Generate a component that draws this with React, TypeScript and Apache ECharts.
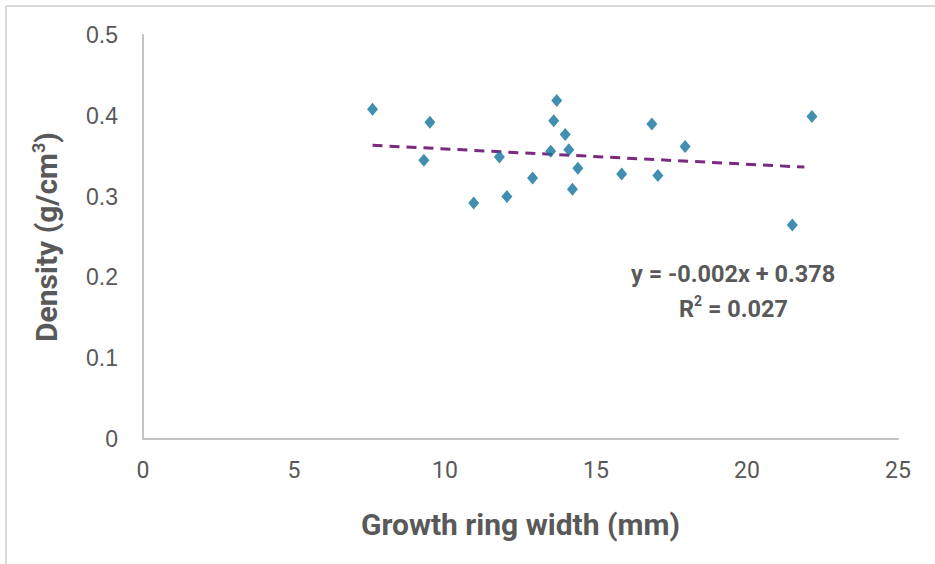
import React, { useEffect, useRef } from "react";
import * as echarts from "echarts";

const ringWidth = [7.6, 9.5, 9.3, 10.95, 11.8, 12.05, 12.9, 13.7, 13.6, 13.5, 13.98, 14.1, 14.4, 14.22, 15.85, 16.85, 17.05, 17.95, 21.5, 22.15];
const density = [0.408, 0.392, 0.345, 0.292, 0.349, 0.300, 0.323, 0.419, 0.394, 0.356, 0.377, 0.358, 0.335, 0.309, 0.328, 0.390, 0.326, 0.362, 0.265, 0.399];
const trendX = [7.6, 21.9];
const trendY = [0.3635, 0.3365];
const xTicks = { min: 0, max: 25, interval: 5 };
const yTicks = { min: 0, max: 0.5, interval: 0.1 };
const equationText = "y = -0.002x + 0.378";
const r2Value = "0.027";

export default function App() {
  const ref = useRef<HTMLDivElement>(null);
  useEffect(() => {
    if (!ref.current) return;
    const chart = echarts.init(ref.current, null, { renderer: "svg" });
    const gray = "#595959";
    chart.setOption({
      animation: false,
      backgroundColor: "#ffffff",
      grid: { left: 143, right: 37, top: 35, bottom: 125 },
      xAxis: {
        type: "value",
        min: xTicks.min,
        max: xTicks.max,
        interval: xTicks.interval,
        name: "Growth ring width (mm)",
        nameLocation: "middle",
        nameGap: 70,
        nameTextStyle: { fontFamily: "Roboto", fontWeight: "bold", fontSize: 30, color: gray },
        axisLine: { show: true, lineStyle: { color: "#C4C4C4", width: 2 } },
        axisTick: { show: false },
        splitLine: { show: false },
        axisLabel: { fontFamily: "Roboto", fontSize: 23, color: gray, margin: 20 },
      },
      yAxis: {
        type: "value",
        min: yTicks.min,
        max: yTicks.max,
        interval: yTicks.interval,
        name: "{b|Density (g/cm}{s|3}{b|)}",
        nameLocation: "middle",
        nameGap: 80,
        nameRotate: 90,
        nameTextStyle: {
          rich: {
            b: { fontFamily: "Roboto", fontWeight: "bold", fontSize: 30, color: gray, lineHeight: 34 },
            s: { fontFamily: "Roboto", fontWeight: "bold", fontSize: 18, color: gray, verticalAlign: "top", lineHeight: 34, padding: [0, 0, 12, 0] },
          },
        },
        axisLine: { show: true, lineStyle: { color: "#C4C4C4", width: 2 } },
        axisTick: { show: false },
        splitLine: { show: false },
        axisLabel: { fontFamily: "Liberation Sans", fontSize: 23, color: gray, margin: 25 },
      },
      series: [
        {
          type: "line",
          data: trendX.map((x, i) => [x, trendY[i]]),
          showSymbol: false,
          symbol: "none",
          lineStyle: { color: "#7A2B7E", width: 3, type: [10, 7] },
          z: 1,
        },
        {
          type: "scatter",
          data: ringWidth.map((x, i) => [x, density[i]]),
          symbol: "diamond",
          symbolSize: [11, 13],
          itemStyle: { color: "#10729C" },
          z: 2,
        },
      ],
      graphic: [
        { type: "line", shape: { x1: 6, y1: 6, x2: 935, y2: 6 }, style: { stroke: "#D9D9D9", lineWidth: 2 } },
        { type: "line", shape: { x1: 6, y1: 6, x2: 6, y2: 564 }, style: { stroke: "#D9D9D9", lineWidth: 2 } },
        {
          type: "text",
          left: 631,
          top: 262,
          style: { text: equationText, fontFamily: "Roboto", fontWeight: "bold", fontSize: 23.5, fill: gray },
        },
        {
          type: "text",
          left: 679,
          top: 294,
          style: {
            text: "{b|R}{s|2}{b| = " + r2Value + "}",
            rich: {
              b: { fontFamily: "Roboto", fontWeight: "bold", fontSize: 23.5, fill: gray, color: gray, lineHeight: 30 },
              s: { fontFamily: "Roboto", fontWeight: "bold", fontSize: 14, fill: gray, color: gray, verticalAlign: "top", lineHeight: 30, padding: [0, 0, 10, 0] },
            },
          },
        },
      ],
    });
    return () => chart.dispose();
  }, []);
  return <div ref={ref} style={{ position: "fixed", left: 0, top: 0, width: 935, height: 564 }} />;
}
